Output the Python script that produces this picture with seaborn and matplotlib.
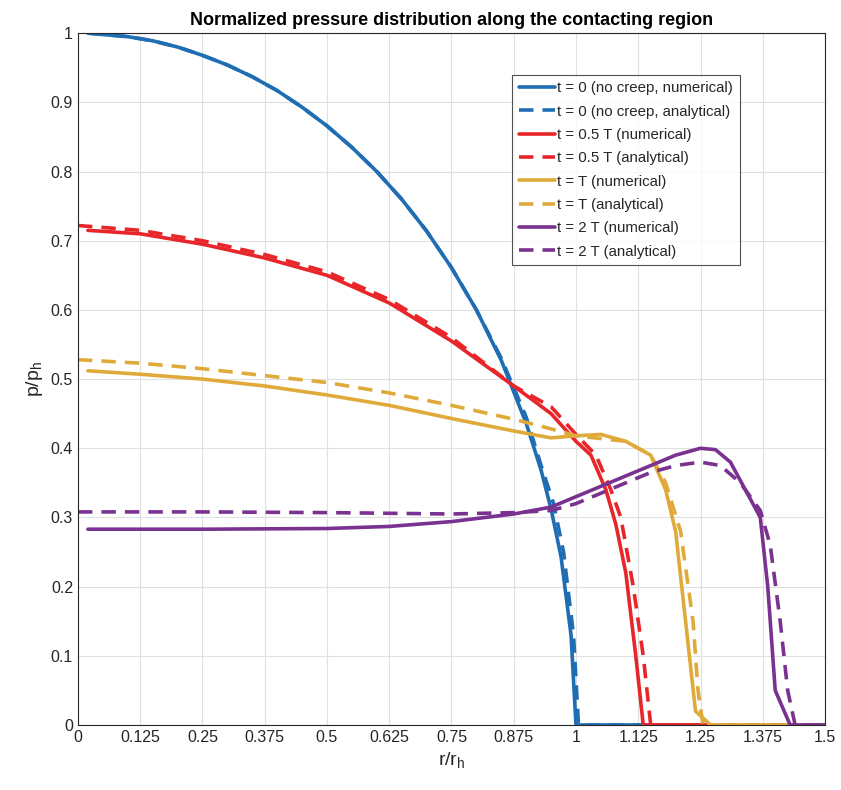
import matplotlib
matplotlib.use("Agg")
import matplotlib.pyplot as plt
import seaborn as sns
import pandas as pd

# ---- data ----
r_blue_num = [0.02, 0.1, 0.15, 0.2, 0.25, 0.3, 0.35, 0.4, 0.45, 0.5, 0.55, 0.6, 0.65, 0.7, 0.75, 0.8, 0.85, 0.9, 0.93, 0.95, 0.97, 0.99, 1.0, 1.5]
p_blue_num = [1.0, 0.995, 0.989, 0.98, 0.968, 0.954, 0.937, 0.917, 0.893, 0.866, 0.835, 0.80, 0.76, 0.714, 0.661, 0.60, 0.527, 0.436, 0.368, 0.312, 0.243, 0.13, 0.0, 0.0]
r_blue_ana = [0.02, 0.1, 0.15, 0.2, 0.25, 0.3, 0.35, 0.4, 0.45, 0.5, 0.55, 0.6, 0.65, 0.7, 0.75, 0.8, 0.85, 0.9, 0.93, 0.955, 0.975, 0.995, 1.005, 1.5]
p_blue_ana = [1.0, 0.995, 0.989, 0.98, 0.968, 0.954, 0.937, 0.917, 0.893, 0.866, 0.835, 0.80, 0.76, 0.714, 0.661, 0.60, 0.53, 0.445, 0.375, 0.32, 0.25, 0.13, 0.0, 0.0]

r_red_num = [0.02, 0.125, 0.25, 0.375, 0.5, 0.625, 0.75, 0.875, 0.95, 1.0, 1.03, 1.06, 1.08, 1.1, 1.12, 1.135, 1.5]
p_red_num = [0.715, 0.71, 0.695, 0.675, 0.65, 0.61, 0.555, 0.49, 0.45, 0.41, 0.39, 0.34, 0.29, 0.22, 0.1, 0.0, 0.0]
r_red_ana = [0.0, 0.125, 0.25, 0.375, 0.5, 0.625, 0.75, 0.875, 0.95, 1.0, 1.04, 1.07, 1.09, 1.115, 1.135, 1.15, 1.5]
p_red_ana = [0.722, 0.715, 0.70, 0.68, 0.655, 0.615, 0.56, 0.49, 0.46, 0.42, 0.39, 0.34, 0.30, 0.20, 0.10, 0.0, 0.0]

r_yel_num = [0.02, 0.125, 0.25, 0.375, 0.5, 0.625, 0.75, 0.875, 0.95, 1.0, 1.05, 1.1, 1.15, 1.18, 1.2, 1.22, 1.24, 1.27, 1.5]
p_yel_num = [0.512, 0.507, 0.50, 0.49, 0.477, 0.462, 0.443, 0.425, 0.415, 0.418, 0.42, 0.41, 0.39, 0.34, 0.28, 0.15, 0.02, 0.0, 0.0]
r_yel_ana = [0.0, 0.125, 0.25, 0.375, 0.5, 0.625, 0.75, 0.875, 0.95, 1.0, 1.1, 1.15, 1.18, 1.21, 1.235, 1.245, 1.255, 1.5]
p_yel_ana = [0.528, 0.523, 0.515, 0.505, 0.495, 0.48, 0.462, 0.442, 0.428, 0.418, 0.41, 0.39, 0.35, 0.28, 0.15, 0.05, 0.0, 0.0]

r_pur_num = [0.02, 0.25, 0.5, 0.625, 0.75, 0.875, 0.95, 1.0, 1.05, 1.1, 1.15, 1.2, 1.25, 1.28, 1.31, 1.34, 1.37, 1.385, 1.4, 1.43, 1.5]
p_pur_num = [0.283, 0.283, 0.284, 0.287, 0.294, 0.305, 0.315, 0.33, 0.345, 0.36, 0.375, 0.39, 0.40, 0.398, 0.38, 0.34, 0.30, 0.20, 0.05, 0.0, 0.0]
r_pur_ana = [0.0, 0.25, 0.5, 0.75, 0.875, 0.95, 1.0, 1.05, 1.1, 1.15, 1.2, 1.25, 1.29, 1.33, 1.37, 1.39, 1.41, 1.425, 1.44, 1.5]
p_pur_ana = [0.308, 0.308, 0.307, 0.305, 0.307, 0.31, 0.32, 0.335, 0.35, 0.365, 0.375, 0.38, 0.375, 0.35, 0.31, 0.26, 0.15, 0.05, 0.0, 0.0]

labels = ["t = 0 (no creep, numerical)", "t = 0 (no creep, analytical)",
          "t = 0.5 T (numerical)", "t = 0.5 T (analytical)",
          "t = T (numerical)", "t = T (analytical)",
          "t = 2 T (numerical)", "t = 2 T (analytical)"]
x_ticks = [0, 0.125, 0.25, 0.375, 0.5, 0.625, 0.75, 0.875, 1, 1.125, 1.25, 1.375, 1.5]
x_tick_labels = ["0", "0.125", "0.25", "0.375", "0.5", "0.625", "0.75", "0.875", "1", "1.125", "1.25", "1.375", "1.5"]
y_ticks = [0, 0.1, 0.2, 0.3, 0.4, 0.5, 0.6, 0.7, 0.8, 0.9, 1.0]
y_tick_labels = ["0", "0.1", "0.2", "0.3", "0.4", "0.5", "0.6", "0.7", "0.8", "0.9", "1"]

series = [
    (r_blue_num, p_blue_num), (r_blue_ana, p_blue_ana),
    (r_red_num, p_red_num), (r_red_ana, p_red_ana),
    (r_yel_num, p_yel_num), (r_yel_ana, p_yel_ana),
    (r_pur_num, p_pur_num), (r_pur_ana, p_pur_ana),
]
colors = ["#1f6db3", "#1f6db3", "#e8262a", "#e8262a", "#e0aa3a", "#e0aa3a", "#7a3290", "#7a3290"]
styles = ["-", "--", "-", "--", "-", "--", "-", "--"]

sns.set_style("white")
plt.rcParams["font.family"] = ["Liberation Sans", "DejaVu Sans"]

fig = plt.figure(figsize=(8.41, 7.9), dpi=100)
ax = fig.add_axes([0.0927, 0.0823, 0.8883, 0.8757])

for (r, p), lab, c, ls in zip(series, labels, colors, styles):
    df = pd.DataFrame({"r": r, "p": p})
    sns.lineplot(data=df, x="r", y="p", ax=ax, color=c, linestyle=ls,
                 linewidth=2.6, label=lab, sort=False, estimator=None,
                 dashes=False)
for line, ls in zip(ax.get_lines(), styles):
    if ls == "--":
        line.set_dashes([4, 2.5])

ax.set_xlim(0, 1.5)
ax.set_ylim(0, 1)
ax.set_xticks(x_ticks)
ax.set_xticklabels(x_tick_labels)
ax.set_yticks(y_ticks)
ax.set_yticklabels(y_tick_labels)
ax.tick_params(labelsize=11.5, direction="in", length=4, colors="#262626")
ax.grid(True, color="#e0e0e0", linewidth=0.8)
for s in ax.spines.values():
    s.set_color("#262626")
    s.set_linewidth(0.8)
ax.set_xlabel("r/r$_\\mathregular{h}$", fontsize=14, color="#262626")
ax.set_ylabel("p/p$_\\mathregular{h}$", fontsize=14, color="#262626")
ax.set_title("Normalized pressure distribution along the contacting region",
             fontsize=13, fontweight="bold", color="black", pad=6)

leg = ax.legend(loc="upper right", bbox_to_anchor=(0.886, 0.94), fontsize=10.8,
                frameon=True, fancybox=False, handlelength=2.4, handletextpad=0.15,
                borderpad=0.45, labelspacing=0.62, borderaxespad=0)
leg.get_frame().set_edgecolor("#262626")
leg.get_frame().set_linewidth(0.8)

fig.savefig("out.png", dpi=100)
